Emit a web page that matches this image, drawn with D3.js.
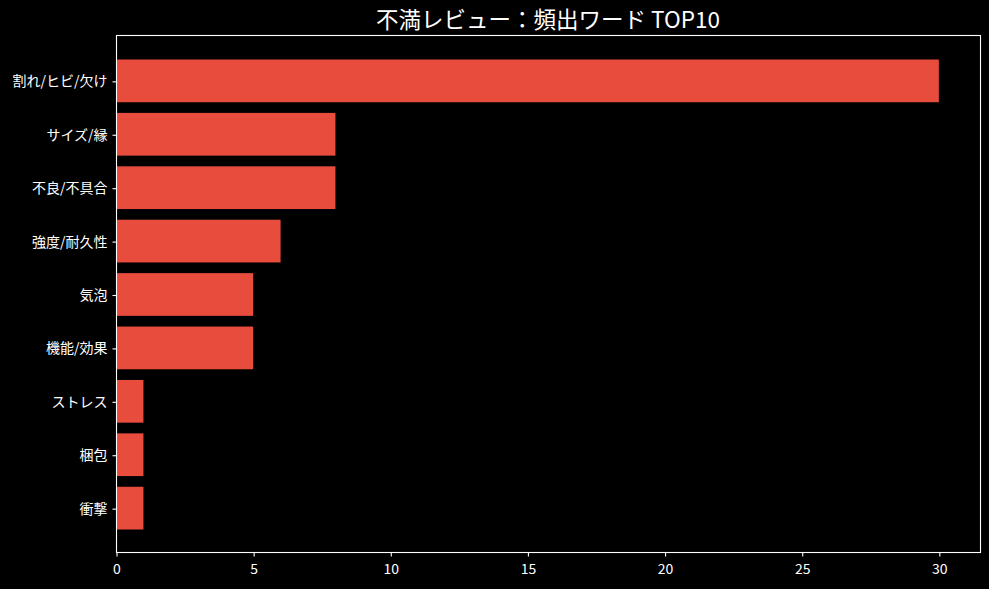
<!DOCTYPE html>
<html><head><meta charset="utf-8">
<script src="https://cdn.jsdelivr.net/npm/d3@7"></script>
<style>
html,body{margin:0;padding:0;background:#000;}
svg{display:block;}
text{font-family:"Noto Sans CJK JP","Noto Sans",sans-serif;}
</style></head>
<body>
<svg id="c" width="989" height="589"></svg>
<script>
const categories = ["割れ/ヒビ/欠け","サイズ/縁","不良/不具合","強度/耐久性","気泡","機能/効果","ストレス","梱包","衝撃"];
const counts = [30, 8, 8, 6, 5, 5, 1, 1, 1];
const xTicks = [0, 5, 10, 15, 20, 25, 30];
const title = "不満レビュー：頻出ワード TOP10";

const svg = d3.select("#c");
const L = 116, R = 980, T = 35, B = 552;
const barColor = "#e74c3c";
const n = categories.length;
const x = d3.scaleLinear().domain([0, d3.max(counts) * 1.05]).range([L, R]);
const y = d3.scaleLinear().domain([-0.4 - 0.05 * (n - 0.2), n - 1 + 0.4 + 0.05 * (n - 0.2)]).range([T + 1, B + 1]);
const bh = Math.abs(y(0.8) - y(0));

svg.append("rect").attr("width", 989).attr("height", 589).attr("fill", "#000");

svg.append("g").selectAll("rect").data(counts).join("rect")
  .attr("x", x(0))
  .attr("y", (d, i) => y(i) - bh / 2)
  .attr("width", d => x(d) - x(0))
  .attr("height", bh)
  .attr("fill", barColor);

// frame
svg.append("rect").attr("x", L + 0.5).attr("y", T + 0.5).attr("width", R - L).attr("height", B - T)
  .attr("fill", "none").attr("stroke", "#fff").attr("stroke-width", 1.1);

const xAxis = svg.append("g").attr("transform", `translate(0.5,${B + 0.5})`)
  .call(d3.axisBottom(x).tickValues(xTicks).tickSize(4).tickPadding(8).tickFormat(d3.format("d")));
const yAxis = svg.append("g").attr("transform", `translate(${L + 0.5},0.5)`)
  .call(d3.axisLeft(y).tickValues(d3.range(n)).tickSize(4).tickPadding(5).tickFormat(i => categories[i]));
[xAxis, yAxis].forEach(g => {
  g.select(".domain").remove();
  g.selectAll("line").attr("stroke", "#fff").attr("stroke-width", 1.1);
  g.selectAll("text").attr("fill", "#fff").style("font-size", "14px")
    .style("font-family", '"Noto Sans CJK JP","Noto Sans",sans-serif');
});

svg.append("text").attr("x", (L + R) / 2).attr("y", 28)
  .attr("text-anchor", "middle").attr("fill", "#fff")
  .style("font-size", "22.5px").text(title);
</script>
</body></html>
